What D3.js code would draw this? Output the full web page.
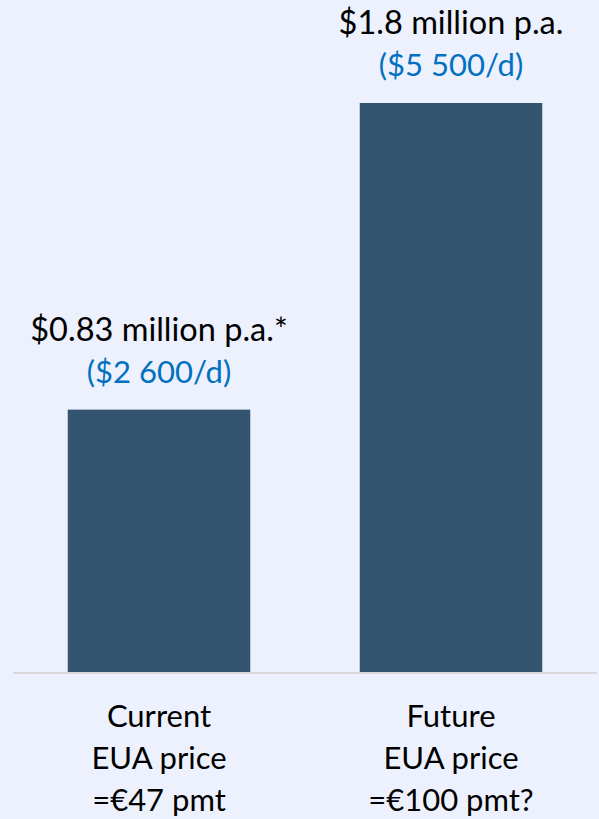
<!DOCTYPE html>
<html>
<head>
<meta charset="utf-8">
<script src="https://cdn.jsdelivr.net/npm/d3@7"></script>
<style>
  html, body { margin: 0; padding: 0; background: #ECF1FD; }
  svg { display: block; }
  text { font-family: Lato, "Open Sans", sans-serif; }
</style>
</head>
<body>
<svg id="chart" width="599" height="819"></svg>
<script>
// Annual EUA cost per vessel, current vs. future carbon price
const categories = ["Current", "Future"];
const categoryLines = [
  ["Current", "EUA price", "=€47 pmt"],
  ["Future", "EUA price", "=€100 pmt?"]
];
const values = [0.83, 1.8];             // $ million per year
const valueLabels = ["$0.83 million p.a.*", "$1.8 million p.a."];
const dailyLabels = ["($2 600/d)", "($5 500/d)"];

const svg = d3.select("#chart");

const x = d3.scaleBand()
  .domain(categories)
  .range([13, 597])
  .paddingInner(0.375)
  .paddingOuter(0.1875);

const y = d3.scaleLinear()
  .domain([0, 1.8])
  .range([672, 103]);

const data = categories.map((c, i) => ({
  cat: c, value: values[i], label: valueLabels[i], daily: dailyLabels[i], lines: categoryLines[i]
}));

// bars
svg.append("g").selectAll("rect")
  .data(data)
  .join("rect")
  .attr("x", d => x(d.cat))
  .attr("width", x.bandwidth())
  .attr("y", d => y(d.value))
  .attr("height", d => y(0) - y(d.value))
  .attr("fill", "#33556F");

// baseline
svg.append("line")
  .attr("x1", x.range()[0]).attr("x2", x.range()[1])
  .attr("y1", y(0) + 1).attr("y2", y(0) + 1)
  .attr("stroke", "#D9D9D9")
  .attr("stroke-width", 2);

// value labels above bars
const lbl = svg.append("g").selectAll("g")
  .data(data)
  .join("g")
  .attr("transform", d => `translate(${x(d.cat) + x.bandwidth() / 2},${y(d.value)})`);

lbl.append("text")
  .attr("y", -69)
  .attr("text-anchor", "middle")
  .attr("font-size", 32.5)
  .attr("fill", "#000")
  .text(d => d.label);

lbl.append("text")
  .attr("y", -27)
  .attr("text-anchor", "middle")
  .attr("font-size", 31)
  .attr("fill", "#0070C0")
  .text(d => d.daily);

// category labels under the axis
const cat = svg.append("g").selectAll("text")
  .data(data)
  .join("text")
  .attr("text-anchor", "middle")
  .attr("font-size", 31)
  .attr("fill", "#000")
  .attr("x", d => x(d.cat) + x.bandwidth() / 2)
  .attr("y", y(0) + 55);

cat.selectAll("tspan")
  .data(d => d.lines.map(t => ({ t, cx: x(d.cat) + x.bandwidth() / 2 })))
  .join("tspan")
  .attr("x", d => d.cx)
  .attr("dy", (d, i) => i === 0 ? 0 : 42)
  .text(d => d.t);
</script>
</body>
</html>
